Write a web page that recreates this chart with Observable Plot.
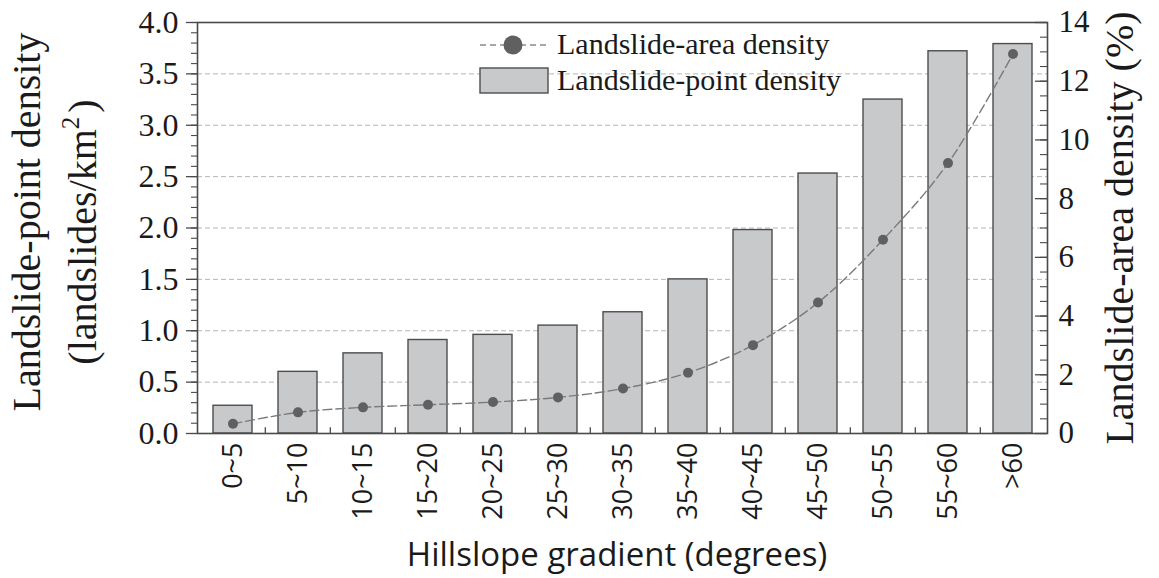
<!DOCTYPE html>
<html>
<head>
<meta charset="utf-8">
<script src="https://cdn.jsdelivr.net/npm/d3@7"></script>
<script src="https://cdn.jsdelivr.net/npm/@observablehq/plot@0.6"></script>
<style>
  html, body { margin: 0; padding: 0; background: #fff; }
  #chart { width: 1159px; height: 578px; }
</style>
</head>
<body>
<div id="chart"></div>
<script>
// ---- data ----
const categories = ["0~5","5~10","10~15","15~20","20~25","25~30","30~35","35~40","40~45","45~50","50~55","55~60",">60"];
const pointDensity = [0.27, 0.60, 0.78, 0.91, 0.96, 1.05, 1.18, 1.50, 1.98, 2.53, 3.25, 3.72, 3.79];   // landslides/km², left axis
const areaDensity  = [0.33, 0.72, 0.89, 0.98, 1.07, 1.23, 1.53, 2.07, 3.01, 4.46, 6.60, 9.21, 12.93];  // %, right axis

// ---- axis ticks ----
const leftMajorTicks = [0, 0.5, 1.0, 1.5, 2.0, 2.5, 3.0, 3.5, 4.0];
const leftGridTicks = [0.5, 1.0, 1.5, 2.0, 2.5, 3.0, 3.5];
const leftMinorTicks = d3.range(0, 4.001, 0.1);
const rightMajorTicks = [0, 2, 4, 6, 8, 10, 12, 14];
const rightMinorTicks = d3.range(0, 14.001, 0.5);
const leftMax = 4, rightMax = 14;
const toLeft = v => v * leftMax / rightMax;

const data = categories.map((c, i) => ({cat: c, point: pointDensity[i], area: areaDensity[i]}));

const W = 1159, H = 578;
const mL = 197, mR = 112, mT = 22, mB = 145;
const plotW = W - mL - mR;
const step = plotW / categories.length;

const serif = "'Liberation Serif', 'Times New Roman', serif";
const sans = "'Open Sans', 'Noto Sans', sans-serif";
const axisColor = "#4a4a4a";

const chart = Plot.plot({
  width: W, height: H,
  marginLeft: mL, marginRight: mR, marginTop: mT, marginBottom: mB,
  style: {fontFamily: serif, fontSize: "30px", color: "#1a1a1a", background: "#fff"},
  x: {domain: categories, paddingInner: 0.4, paddingOuter: 0.2},
  y: {domain: [0, leftMax]},
  marks: [
    Plot.ruleY(leftGridTicks, {stroke: "#b5b5b5", strokeWidth: 1, strokeDasharray: "5,3"}),
    Plot.barY(data, {x: "cat", y: "point", fill: "#c8c9cb", stroke: "#4d4d4d", strokeWidth: 1.4}),
    Plot.line(data, {x: "cat", y: d => toLeft(d.area), stroke: "#7a7a7a", strokeWidth: 1.4, strokeDasharray: "9,4", curve: "catmull-rom"}),
    Plot.dot(data, {x: "cat", y: d => toLeft(d.area), r: 5, fill: "#606060", stroke: "none"}),
    Plot.frame({stroke: axisColor, strokeWidth: 1.6}),
    // left axis: outward ticks
    Plot.axisY(leftMajorTicks, {anchor: "left", tickSize: 11, tickPadding: 8, stroke: axisColor, strokeWidth: 1.3,
      tickFormat: d3.format(".1f"), fontSize: 32, fontFamily: serif, label: null}),
    Plot.axisY(leftMinorTicks, {anchor: "left", tickSize: 6, stroke: axisColor, strokeWidth: 1.1, text: null, label: null}),
    // right axis: inward ticks + labels
    Plot.ruleY(rightMajorTicks.map(toLeft), {insetLeft: plotW - 12, stroke: axisColor, strokeWidth: 1.3}),
    Plot.ruleY(rightMinorTicks.map(toLeft), {insetLeft: plotW - 7, stroke: axisColor, strokeWidth: 1.1}),
    Plot.axisY(rightMajorTicks.map(toLeft), {anchor: "right", tickSize: 0, tickPadding: 11,
      tickFormat: d => String(Math.round(d * rightMax / leftMax)), fontSize: 31, fontFamily: serif, label: null}),
    // bottom: inward ticks between bands
    Plot.ruleX(categories.slice(1), {x: d => d, y1: 0, y2: 0.055, dx: -step / 2, stroke: axisColor, strokeWidth: 1.3}),
    Plot.axisX({anchor: "bottom", tickSize: 0, tickPadding: 9, tickRotate: -90, fontFamily: sans, fontSize: 27, label: null})
  ]
});

document.getElementById("chart").appendChild(chart);

// ---- titles and legend ----
const svg = d3.select(chart);
const g = svg.append("g").attr("fill", "#1a1a1a");

g.append("text")
  .attr("transform", "translate(40,222) rotate(-90)")
  .attr("text-anchor", "middle")
  .style("font-family", serif).style("font-size", "40px")
  .text("Landslide-point density");

const t2 = g.append("text")
  .attr("transform", "translate(96,232) rotate(-90)")
  .attr("text-anchor", "middle")
  .style("font-family", serif).style("font-size", "40px");
t2.append("tspan").text("(landslides/km");
t2.append("tspan").attr("dy", -17).style("font-size", "25px").text("2");
t2.append("tspan").attr("dy", 17).attr("dx", 4).text(")");

g.append("text")
  .attr("transform", "translate(1133,228) rotate(-90)")
  .attr("text-anchor", "middle")
  .style("font-family", serif).style("font-size", "40px")
  .text("Landslide-area density (%)");

g.append("text")
  .attr("x", 617).attr("y", 566)
  .attr("text-anchor", "middle")
  .style("font-family", sans).style("font-size", "33px")
  .text("Hillslope gradient (degrees)");

// legend
const lg = svg.append("g");
lg.append("line").attr("x1", 480).attr("x2", 548).attr("y1", 45).attr("y2", 45)
  .attr("stroke", "#8a8a8a").attr("stroke-width", 1.4).attr("stroke-dasharray", "6,4");
lg.append("circle").attr("cx", 513).attr("cy", 45).attr("r", 9.5).attr("fill", "#606060");
lg.append("text").attr("x", 557).attr("y", 54).attr("text-anchor", "start")
  .style("font-family", serif).style("font-size", "30px").attr("fill", "#1a1a1a")
  .text("Landslide-area density");
lg.append("rect").attr("x", 480).attr("y", 68).attr("width", 68).attr("height", 25)
  .attr("fill", "#c8c9cb").attr("stroke", "#4d4d4d").attr("stroke-width", 1.4);
lg.append("text").attr("x", 557).attr("y", 90).attr("text-anchor", "start")
  .style("font-family", serif).style("font-size", "30px").attr("fill", "#1a1a1a")
  .text("Landslide-point density");
</script>
</body>
</html>
